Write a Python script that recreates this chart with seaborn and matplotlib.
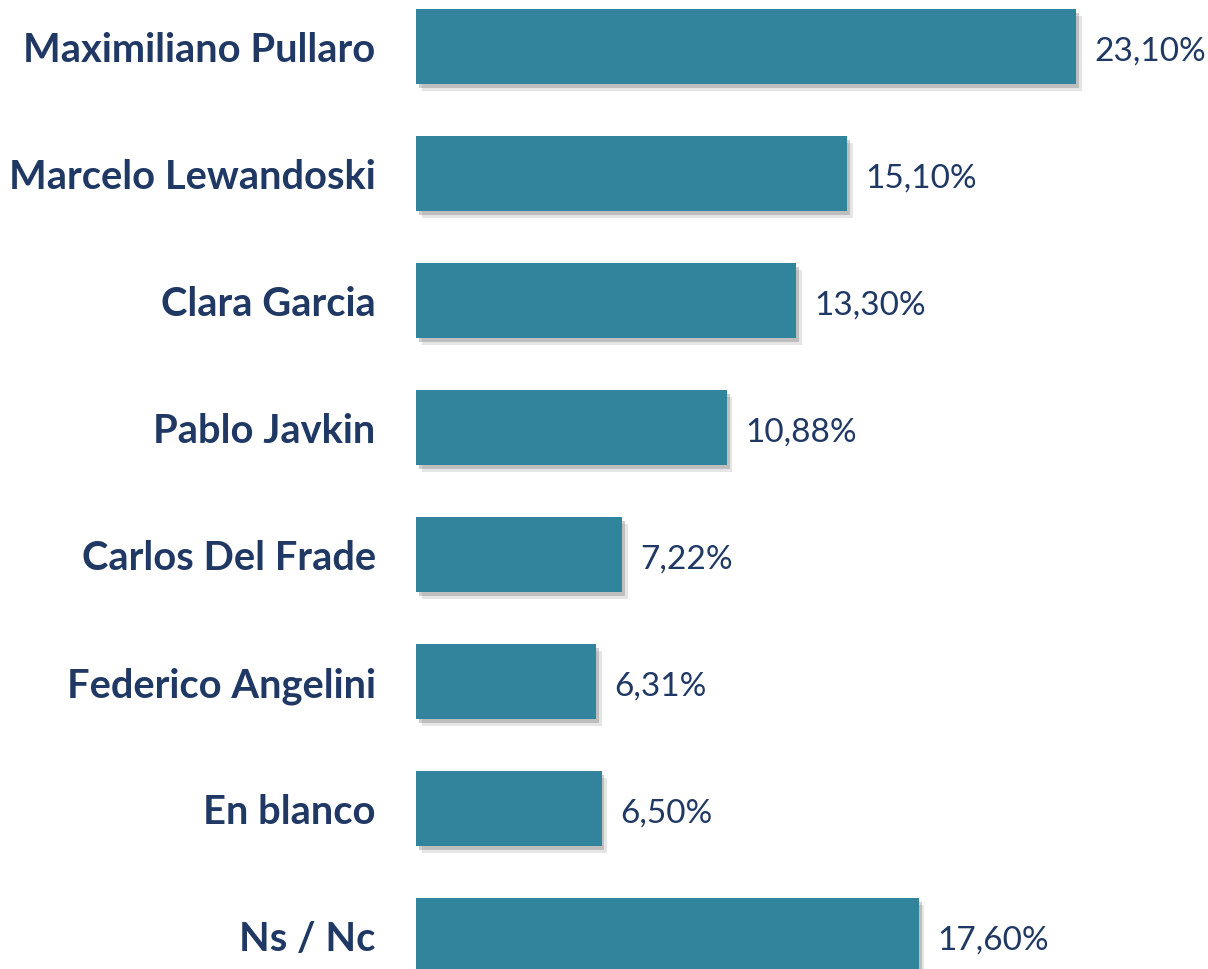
import pandas as pd
import matplotlib.pyplot as plt
import matplotlib.patheffects as pe
import seaborn as sns

# Datos de la encuesta
candidatos = ['Maximiliano Pullaro', 'Marcelo Lewandoski', 'Clara Garcia', 'Pablo Javkin',
              'Carlos Del Frade', 'Federico Angelini', 'En blanco', 'Ns / Nc']
porcentajes = [23.10, 15.10, 13.30, 10.88, 7.22, 6.31, 6.50, 17.60]

df = pd.DataFrame({'candidato': candidatos, 'porcentaje': porcentajes})

sns.set_style('white')
plt.rcParams['font.family'] = ['Lato', 'DejaVu Sans']

color_barra = '#31849B'
color_texto = '#1F3864'

fig = plt.figure(figsize=(12.08, 9.7), dpi=100)
ax = fig.add_axes([416 / 1208, 0, 1 - 416 / 1208, 1])

sns.barplot(data=df, y='candidato', x='porcentaje', orient='h', color=color_barra,
            width=0.59, saturation=1, linewidth=0, ax=ax)

# sombra suave de las barras
for barra in ax.patches:
    barra.set_path_effects([
        pe.SimplePatchShadow(offset=(4, -5), shadow_rgbFace='#999999', alpha=0.25),
        pe.SimplePatchShadow(offset=(2, -3), shadow_rgbFace='#777777', alpha=0.35),
        pe.Normal()])

etiquetas = [f'{v:.2f}%'.replace('.', ',') for v in porcentajes]
textos = ax.bar_label(ax.containers[0], labels=etiquetas, padding=13, fontsize=24,
                      color=color_texto)
# las etiquetas quedan un poco por debajo del centro de la barra
for t in textos:
    t.xyann = (t.xyann[0], -3)

ax.set_xlim(0, 27.72)
ax.set_ylim(7.264, -0.374)
ax.set_xlabel('')
ax.set_ylabel('')
ax.set_xticks([])
ax.tick_params(axis='y', length=0, pad=29)
for lbl in ax.get_yticklabels():
    lbl.set_fontweight('bold')
    lbl.set_fontsize(28.7)
    lbl.set_color(color_texto)
sns.despine(left=True, bottom=True)

plt.savefig('out.png', dpi=100)
